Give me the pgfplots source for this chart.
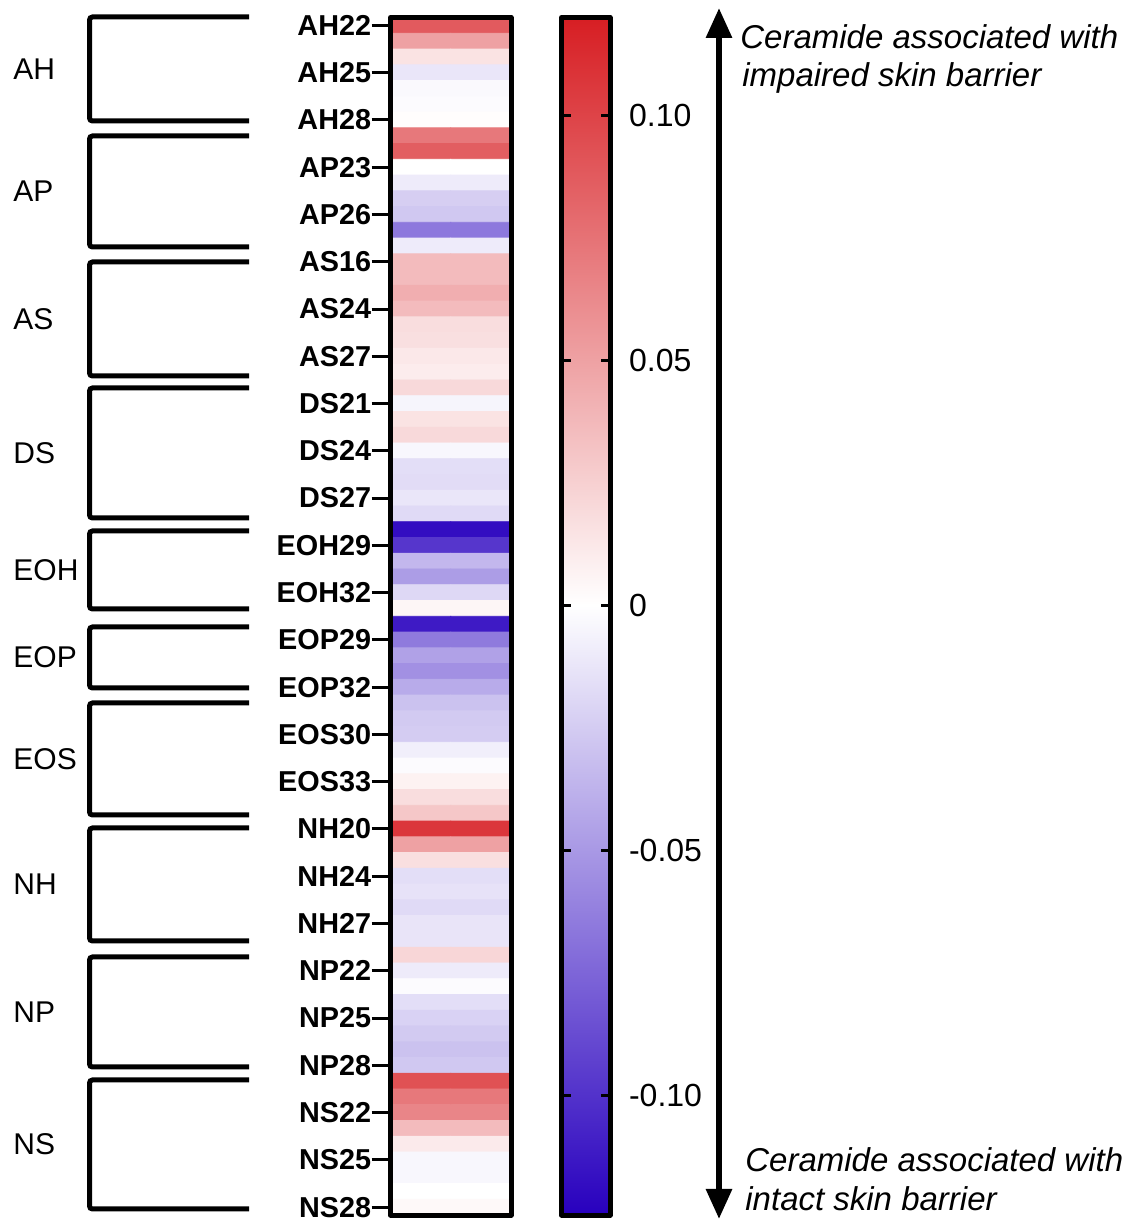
\documentclass[border=0pt]{standalone}
\usepackage{fontspec}
\setmainfont{Liberation Sans}
\usepackage{pgfplots}
\usepackage{pgfplotstable}
\pgfplotsset{compat=1.18}
\usetikzlibrary{arrows.meta}
\definecolor{cbblue}{RGB}{40,0,190}
\definecolor{cbred}{RGB}{215,30,35}

\pgfplotstableread{
x r v
0 0 0.088
1 0 0.088
0 1 0.050
1 1 0.050
0 2 0.015
1 2 0.015
0 3 -0.012
1 3 -0.012
0 4 -0.003
1 4 -0.003
0 5 -0.002
1 5 -0.002
0 6 0.001
1 6 0.001
0 7 0.072
1 7 0.072
0 8 0.086
1 8 0.086
0 9 0.000
1 9 0.000
0 10 -0.010
1 10 -0.010
0 11 -0.024
1 11 -0.024
0 12 -0.027
1 12 -0.027
0 13 -0.066
1 13 -0.066
0 14 -0.010
1 14 -0.010
0 15 0.036
1 15 0.036
0 16 0.036
1 16 0.036
0 17 0.043
1 17 0.043
0 18 0.036
1 18 0.036
0 19 0.018
1 19 0.018
0 20 0.017
1 20 0.017
0 21 0.012
1 21 0.012
0 22 0.010
1 22 0.010
0 23 0.020
1 23 0.020
0 24 -0.005
1 24 -0.005
0 25 0.015
1 25 0.015
0 26 0.020
1 26 0.020
0 27 -0.004
1 27 -0.004
0 28 -0.016
1 28 -0.016
0 29 -0.017
1 29 -0.017
0 30 -0.012
1 30 -0.012
0 31 -0.018
1 31 -0.018
0 32 -0.118
1 32 -0.118
0 33 -0.098
1 33 -0.098
0 34 -0.035
1 34 -0.035
0 35 -0.048
1 35 -0.048
0 36 -0.019
1 36 -0.019
0 37 0.005
1 37 0.005
0 38 -0.112
1 38 -0.112
0 39 -0.065
1 39 -0.065
0 40 -0.046
1 40 -0.046
0 41 -0.054
1 41 -0.054
0 42 -0.041
1 42 -0.041
0 43 -0.030
1 43 -0.030
0 44 -0.026
1 44 -0.026
0 45 -0.025
1 45 -0.025
0 46 -0.008
1 46 -0.008
0 47 -0.002
1 47 -0.002
0 48 0.007
1 48 0.007
0 49 0.018
1 49 0.018
0 50 0.030
1 50 0.030
0 51 0.107
1 51 0.107
0 52 0.050
1 52 0.050
0 53 0.017
1 53 0.017
0 54 -0.016
1 54 -0.016
0 55 -0.014
1 55 -0.014
0 56 -0.018
1 56 -0.018
0 57 -0.013
1 57 -0.013
0 58 -0.013
1 58 -0.013
0 59 0.022
1 59 0.022
0 60 -0.010
1 60 -0.010
0 61 -0.002
1 61 -0.002
0 62 -0.016
1 62 -0.016
0 63 -0.022
1 63 -0.022
0 64 -0.026
1 64 -0.026
0 65 -0.030
1 65 -0.030
0 66 -0.027
1 66 -0.027
0 67 0.093
1 67 0.093
0 68 0.072
1 68 0.072
0 69 0.065
1 69 0.065
0 70 0.036
1 70 0.036
0 71 0.011
1 71 0.011
0 72 -0.004
1 72 -0.004
0 73 -0.004
1 73 -0.004
0 74 0.000
1 74 0.000
0 75 0.003
1 75 0.003
}\heat

\begin{document}
\begin{tikzpicture}
\path[use as bounding box] (0,0) rectangle (564.5pt,610pt);
\begin{axis}[
  at={(195.25pt,2.5pt)}, anchor=south west,
  scale only axis, width=60.25pt, height=598.75pt,
  xmin=-0.5, xmax=1.5, ymin=-0.5, ymax=75.5, y dir=reverse,
  xtick=\empty,
  ytick={0,3,...,75},
  yticklabels={AH22,AH25,AH28,AP23,AP26,AS16,AS24,AS27,DS21,DS24,DS27,EOH29,EOH32,EOP29,EOP32,EOS30,EOS33,NH20,NH24,NH27,NP22,NP25,NP28,NS22,NS25,NS28},
  ytick pos=left, tick align=outside, major tick length=9.5pt,
  tick style={line width=1.5pt, black},
  yticklabel style={font=\fontsize{14.4}{16}\selectfont\bfseries, inner sep=0pt},
  axis line style={line width=2.5pt, line join=round},
  colormap={bwr}{rgb255(0pt)=(40,0,190); rgb255(249pt)=(255,255,255); rgb255(489pt)=(215,30,35)},
  point meta min=-0.1245, point meta max=0.12,
  axis on top,
]
\addplot[matrix plot*, mesh/cols=2, point meta=explicit] table[x=x, y=r, meta=v]{\heat};
\end{axis}

% colour scale
\begin{axis}[
  at={(280.75pt,2.5pt)}, anchor=south west,
  scale only axis, width=24.25pt, height=598.75pt,
  xmin=0, xmax=1, ymin=-0.1245, ymax=0.12,
  xtick=\empty,
  ytick={-0.1,-0.05,0,0.05,0.1},
  yticklabels={-0.10,-0.05,0,0.05,0.10},
  ytick pos=both, yticklabel pos=right,
  tick align=inside, major tick length=4.5pt,
  tick style={line width=1.5pt, black},
  yticklabel style={font=\fontsize{16}{18}\selectfont, xshift=6pt},
  axis line style={line width=2.5pt, line join=round},
  axis on top,
]
\shade[bottom color=cbblue, top color=white] (axis cs:0,-0.1245) rectangle (axis cs:1,0);
\shade[bottom color=white, top color=cbred] (axis cs:0,0) rectangle (axis cs:1,0.12);
\end{axis}

% brackets
\foreach \yt/\yb/\lab in {601.5/549.5/AH, 542/486.5/AP, 479/422/AS, 416/351/DS, 344.5/305.5/EOH, 296.5/266/EOP, 258.5/202.5/EOS, 196/139.5/NH, 131.5/76.5/NP, 70/5.5/NS}{
  \draw[line width=2.5pt, rounded corners=1.5pt] (124.5pt,\yt pt) -- (44.75pt,\yt pt) -- (44.75pt,\yb pt) -- (124.5pt,\yb pt);
  \node[anchor=west, inner sep=0pt, font=\fontsize{15}{17}\selectfont] at (6.5pt,{(\yt+\yb)/2*1pt}) {\lab};
}

% arrow
\draw[line width=3pt, {Triangle[length=15pt,width=12.5pt]}-{Triangle[length=15pt,width=12.5pt]}] (359.5pt,606pt) -- (359.5pt,0.5pt);

\node[anchor=base west, inner sep=0pt, font=\fontsize{16.5}{18}\selectfont\itshape] at (370pt,585.5pt) {Ceramide associated with};
\node[anchor=base west, inner sep=0pt, font=\fontsize{16.5}{18}\selectfont\itshape] at (371pt,566.5pt) {impaired skin barrier};
\node[anchor=base west, inner sep=0pt, font=\fontsize{16.5}{18}\selectfont\itshape] at (372.5pt,24pt) {Ceramide associated with};
\node[anchor=base west, inner sep=0pt, font=\fontsize{16.5}{18}\selectfont\itshape] at (372.5pt,5pt) {intact skin barrier};
\end{tikzpicture}
\end{document}
